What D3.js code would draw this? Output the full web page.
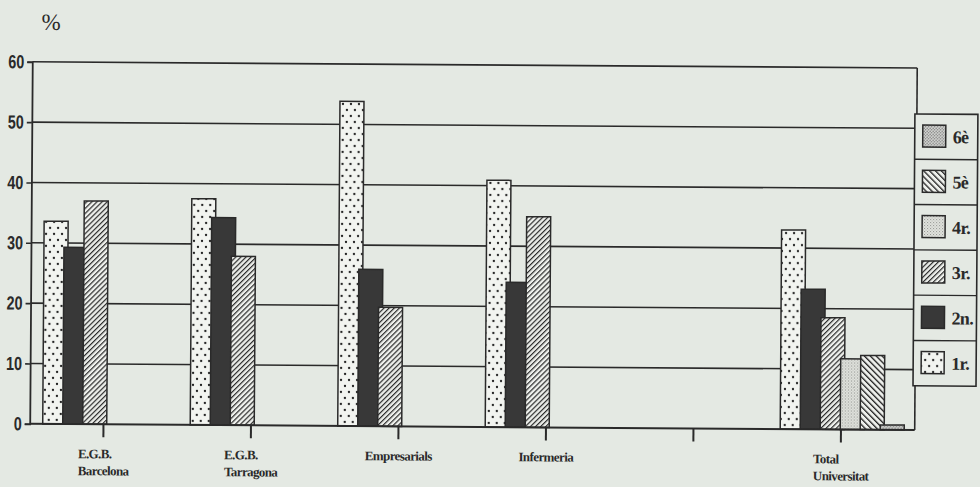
<!DOCTYPE html>
<html><head><meta charset="utf-8">
<script src="https://cdn.jsdelivr.net/npm/d3@7"></script>
<style>html,body{margin:0;padding:0;background:#e4e9e3;} svg{display:block}</style>
</head><body><svg id="c" width="980" height="487"></svg>
<script>
// ---- data ----
const categories = ["E.G.B. Barcelona", "E.G.B. Tarragona", "Empresarials", "Infermeria", "-", "Total Universitat"];
const categoryLabels = [["E.G.B.", "Barcelona"], ["E.G.B.", "Tarragona"], ["Empresarials"], ["Infermeria"], [], ["Total", "Universitat"]];
const seriesNames = ["1r.", "2n.", "3r.", "4r.", "5è", "6è"];
const values1r = [33.6, 37.5, 53.8, 40.9, null, 33.0];
const values2n = [29.3, 34.4, 26.0, 24.0, null, 23.2];
const values3r = [37.0, 28.0, 19.7, 34.9, null, 18.5];
const values4r = [null, null, null, null, null, 11.7];
const values5e = [null, null, null, null, null, 12.3];
const values6e = [null, null, null, null, null, 0.8];
const seriesValues = [values1r, values2n, values3r, values4r, values5e, values6e];
const yTicks = [0, 10, 20, 30, 40, 50, 60];
const yUnit = "%";

// ---- setup ----
const ink = "#2a2a2a";
const bg = "#e4e9e3";
const svg = d3.select("#c");
const defs = svg.append("defs");

function hatch(id, w, angle, sw, bgc) {
  const p = defs.append("pattern").attr("id", id).attr("patternUnits", "userSpaceOnUse")
    .attr("width", w).attr("height", 10).attr("patternTransform", `rotate(${angle})`);
  p.append("rect").attr("width", w).attr("height", 10).attr("fill", bgc);
  p.append("line").attr("x1", 0.6).attr("y1", 0).attr("x2", 0.6).attr("y2", 10)
    .attr("stroke", ink).attr("stroke-width", sw);
}
// 1r dotted
{
  const p = defs.append("pattern").attr("id", "p1r").attr("patternUnits", "userSpaceOnUse")
    .attr("width", 8).attr("height", 12);
  p.append("rect").attr("width", 8).attr("height", 12).attr("fill", "#f2f4f0");
  p.append("circle").attr("cx", 2).attr("cy", 3).attr("r", 1.15).attr("fill", "#1e1e1e");
  p.append("circle").attr("cx", 6).attr("cy", 9).attr("r", 1.15).attr("fill", "#1e1e1e");
}
hatch("p3r", 3.6, 45, 1.2, "#eef0ec");
hatch("p5e", 4.2, -45, 1.5, "#eef0ec");
// 4r light stipple
{
  const p = defs.append("pattern").attr("id", "p4r").attr("patternUnits", "userSpaceOnUse")
    .attr("width", 3).attr("height", 3);
  p.append("rect").attr("width", 3).attr("height", 3).attr("fill", "#e2e4df");
  p.append("rect").attr("x", 0).attr("y", 0).attr("width", 1).attr("height", 1).attr("fill", "#8c8e8a");
  p.append("rect").attr("x", 1.5).attr("y", 1.5).attr("width", 1).attr("height", 1).attr("fill", "#a4a6a2");
}
// 6è dense stipple
{
  const p = defs.append("pattern").attr("id", "p6e").attr("patternUnits", "userSpaceOnUse")
    .attr("width", 3).attr("height", 3);
  p.append("rect").attr("width", 3).attr("height", 3).attr("fill", "#e0e2de");
  p.append("circle").attr("cx", 0.75).attr("cy", 0.75).attr("r", 0.75).attr("fill", "#666");
  p.append("circle").attr("cx", 2.25).attr("cy", 2.25).attr("r", 0.75).attr("fill", "#666");
}
const fills = ["url(#p1r)", "#383838", "url(#p3r)", "url(#p4r)", "url(#p5e)", "url(#p6e)"];

const root = svg.append("g").attr("transform", "rotate(0.4 490 243)");

const left = 31, right = 916;
const x = d3.scaleBand().domain(categories).range([left, right]);
const inner = d3.scaleBand().domain(seriesNames).range([13, 133]);
const y = d3.scaleLinear().domain([0, 60]).range([427, 65]);

// gridlines
root.append("g").selectAll("line").data(yTicks.filter(t => t > 0)).join("line")
  .attr("x1", left).attr("x2", right).attr("y1", d => y(d)).attr("y2", d => y(d))
  .attr("stroke", ink).attr("stroke-width", 1.6);

// right frame
root.append("line").attr("x1", right).attr("x2", right).attr("y1", y(60)).attr("y2", y(0))
  .attr("stroke", ink).attr("stroke-width", 1.6);

// bars
const barData = [];
categories.forEach((c, ci) => {
  seriesNames.forEach((s, si) => {
    const v = seriesValues[si][ci];
    if (v != null) barData.push({c, s, si, v});
  });
});
root.append("g").selectAll("rect").data(barData).join("rect")
  .attr("x", d => x(d.c) + inner(d.s))
  .attr("width", inner.bandwidth() + 4)
  .attr("y", d => y(d.v))
  .attr("height", d => y(0) - y(d.v))
  .attr("fill", d => fills[d.si])
  .attr("stroke", ink).attr("stroke-width", 1.5);

// baseline
root.append("line").attr("x1", left).attr("x2", right).attr("y1", y(0)).attr("y2", y(0))
  .attr("stroke", ink).attr("stroke-width", 2);

// y axis
const yAxis = root.append("g").attr("transform", `translate(${left},0)`)
  .call(d3.axisLeft(y).tickValues(yTicks).tickSize(5).tickPadding(3));
yAxis.select(".domain").attr("stroke", ink).attr("stroke-width", 1.8);
yAxis.selectAll(".tick line").attr("stroke", ink).attr("stroke-width", 1.6);
yAxis.selectAll(".tick text")
  .attr("font-family", "'Liberation Sans', Arial, sans-serif")
  .attr("font-weight", "bold").attr("font-size", 19).attr("fill", ink)
  .attr("textLength", d => String(d).length * 8)
  .attr("lengthAdjust", "spacingAndGlyphs");

// x axis ticks
const xAxis = root.append("g").attr("transform", `translate(0,${y(0)})`)
  .call(d3.axisBottom(x).tickSize(13).tickFormat(""));
xAxis.select(".domain").remove();
xAxis.selectAll(".tick line").attr("stroke", ink).attr("stroke-width", 2);

// category labels
categories.forEach((c, ci) => {
  const lines = categoryLabels[ci];
  if (!lines.length) return;
  const g = root.append("g");
  const texts = lines.map((t, li) => g.append("text").text(t)
    .attr("y", 461 + li * 17)
    .attr("font-family", "'Liberation Serif', 'Times New Roman', serif")
    .attr("font-weight", "bold").attr("font-size", 13).attr("letter-spacing", -0.6)
    .attr("fill", ink));
  const maxW = d3.max(texts, t => t.node().getComputedTextLength());
  const cx = x(c) + x.bandwidth() / 2;
  texts.forEach(t => t.attr("x", cx - maxW / 2));
});

// unit label
root.append("text").text(yUnit).attr("x", 40).attr("y", 33)
  .attr("font-family", "'Liberation Serif', 'Times New Roman', serif")
  .attr("font-size", 23).attr("fill", ink);

// legend
const lgX = 914, lgW = 63, lgTop = 111, rowH = 45.3;
const legendOrder = seriesNames.map((s, i) => i).reverse();
const lg = root.append("g");
lg.append("rect").attr("x", lgX).attr("y", lgTop).attr("width", lgW).attr("height", rowH * 6)
  .attr("fill", bg).attr("stroke", ink).attr("stroke-width", 1.6);
legendOrder.forEach((si, ri) => {
  const top = lgTop + ri * rowH;
  if (ri > 0) lg.append("line").attr("x1", lgX).attr("x2", lgX + lgW).attr("y1", top).attr("y2", top)
    .attr("stroke", ink).attr("stroke-width", 1.4);
  lg.append("rect").attr("x", lgX + 8).attr("y", top + 11).attr("width", 23).attr("height", 22)
    .attr("fill", fills[si]).attr("stroke", ink).attr("stroke-width", 1.5);
  lg.append("text").text(seriesNames[si]).attr("x", lgX + 38).attr("y", top + 29)
    .attr("font-family", "'Liberation Serif', 'Times New Roman', serif")
    .attr("font-weight", "bold").attr("font-size", 18).attr("letter-spacing", -0.6).attr("fill", ink);
});
</script></body></html>
